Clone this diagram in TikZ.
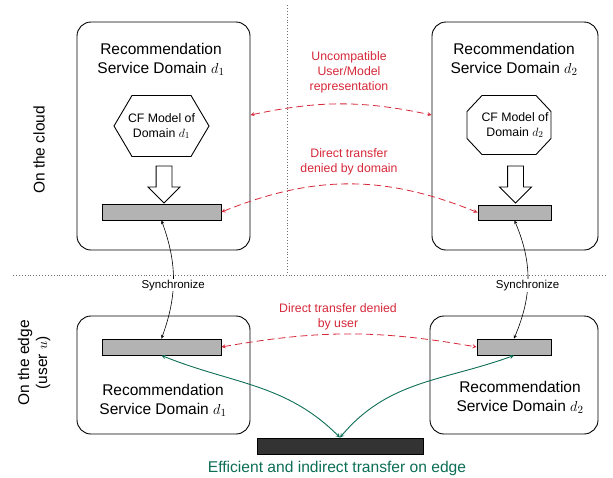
\documentclass[tikz,border=0pt]{standalone}
\usepackage{xcolor}
\usepackage{fontspec}
\setmainfont{Liberation Sans}
\usepackage{tikz}
\usetikzlibrary{shapes.arrows}
\definecolor{denyred}{RGB}{214,40,57}
\definecolor{edgegreen}{RGB}{12,110,85}
\definecolor{bargray}{RGB}{179,179,179}
\definecolor{bardark}{RGB}{51,51,51}
\definecolor{sepgray}{RGB}{110,110,110}
\tikzset{domain node/.style={draw,rounded corners=14pt,line width=0.9pt,inner sep=0pt},
            bar node/.style={draw,fill=bargray,inner sep=0pt,line width=0.9pt},
            title node/.style={align=center,font=\fontsize{15.5}{19}\selectfont},
            model node/.style={align=center,font=\fontsize{12.3}{15}\selectfont},
            deny node/.style={align=center,text=denyred,font=\fontsize{12.3}{15}\selectfont},
            sync node/.style={fill=white,inner sep=1pt,font=\fontsize{11.5}{14}\selectfont},
            block node/.style={single arrow,draw,fill=white,shape border rotate=270,line width=0.9pt,
              minimum height=37pt,single arrow head extend=8pt,inner sep=7.5pt},
            deny arrow/.style={<->,>=stealth,denyred,line width=0.8pt,dash pattern=on 7pt off 4pt},
            sync arrow/.style={<->,>=stealth,line width=0.6pt},
            edge arrow/.style={<->,>=stealth,edgegreen,line width=0.9pt},
            }
\begin{document}
\begin{tikzpicture}[x=1pt,y=1pt]
	\useasboundingbox (0,0) rectangle (613,-477);
	% separators
	\draw[sepgray,dotted,line width=0.9pt] (287,-5) -- (287,-272);
	\draw[sepgray,dotted,line width=0.9pt] (13,-275) -- (605,-275);
	\node[rotate=90,font=\fontsize{15.5}{19}\selectfont] (cloud) at (39,-150) {On the cloud};
	\node[rotate=90,align=center,font=\fontsize{15.5}{18}\selectfont] (edge) at (34,-363) {On the edge\\(user $u$)};
	% cloud side
	\node[domain node,minimum width=173pt,minimum height=228pt] (cd1) at (163.5,-136) {};
	\node[domain node,minimum width=166pt,minimum height=228pt] (cd2) at (515,-136) {};
	\node[title node] (ct1) at (161,-59.5) {Recommendation\\Service Domain $d_1$};
	\node[title node] (ct2) at (514,-59.5) {Recommendation\\Service Domain $d_2$};
	\node[model node] (m1) at (161.5,-126) {CF Model of\\Domain $d_1$};
	\node[model node] (m2) at (515,-125) {CF Model of\\Domain $d_2$};
	\draw[line width=0.9pt] (m1.center) ++(-29.5,30.5) -- ++(59,0) -- ++(18,-30.5) -- ++(-18,-30.5)
		-- ++(-59,0) -- ++(-18,30.5) -- cycle;
	\draw[line width=0.9pt] (m2.center) ++(-33,29.5) -- ++(54,0) -- ++(15,-16) -- ++(0,-27)
		-- ++(-15,-16) -- ++(-54,0) -- ++(-15,16) -- ++(0,27) -- cycle;
	\node[block node] (b1) at (164,-180.5) {};
	\node[block node] (b2) at (515.5,-180.5) {};
	\node[bar node,minimum width=119pt,minimum height=16pt] (cb1) at (161.5,-212) {};
	\node[bar node,minimum width=73pt,minimum height=15pt] (cb2) at (514.5,-212.5) {};
	% edge side
	\node[domain node,minimum width=173pt,minimum height=118pt] (ed1) at (163.5,-375) {};
	\node[domain node,minimum width=168pt,minimum height=118pt] (ed2) at (514,-375) {};
	\node[bar node,minimum width=119pt,minimum height=16pt] (eb1) at (161.5,-347) {};
	\node[bar node,minimum width=74pt,minimum height=16pt] (eb2) at (514,-347) {};
	\node[title node] (et1) at (163,-400.5) {Recommendation\\Service Domain $d_1$};
	\node[title node] (et2) at (520,-397.5) {Recommendation\\Service Domain $d_2$};
	\node[bar node,fill=bardark,minimum width=166pt,minimum height=16pt] (blk) at (340,-446) {};
	\node[text=edgegreen,font=\fontsize{15.6}{19}\selectfont] (eff) at (337,-468) {Efficient and indirect transfer on edge};
	% labels
	\node[deny node] (l1) at (349,-72) {Uncompatible\\User/Model\\representation};
	\node[deny node] (l2) at (349,-161.5) {Direct transfer\\denied by domain};
	\node[deny node] (l3) at (338,-316.5) {Direct transfer denied\\by user};
	% connectors
	\draw[deny arrow] ([yshift=21pt]cd1.east) to[bend left=12] ([yshift=21pt]cd2.west);
	\draw[deny arrow] (cb1.east) to[bend left=22] (cb2.west);
	\draw[deny arrow] (eb1.east) to[bend left=10] (eb2.west);
	\draw[sync arrow] (cb1.south) to[out=-70,in=70] node[sync node,pos=0.55] (s1) {Synchronize} (eb1.north);
	\draw[sync arrow] (cb2.south) to[out=-67,in=67] node[sync node,pos=0.55] (s2) {Synchronize} (eb2.north);
	\draw[edge arrow] (eb1.south) to[out=-22,in=135] (blk.north);
	\draw[edge arrow] (eb2.south) to[out=-160,in=50] (blk.north);
\end{tikzpicture}
\end{document}
